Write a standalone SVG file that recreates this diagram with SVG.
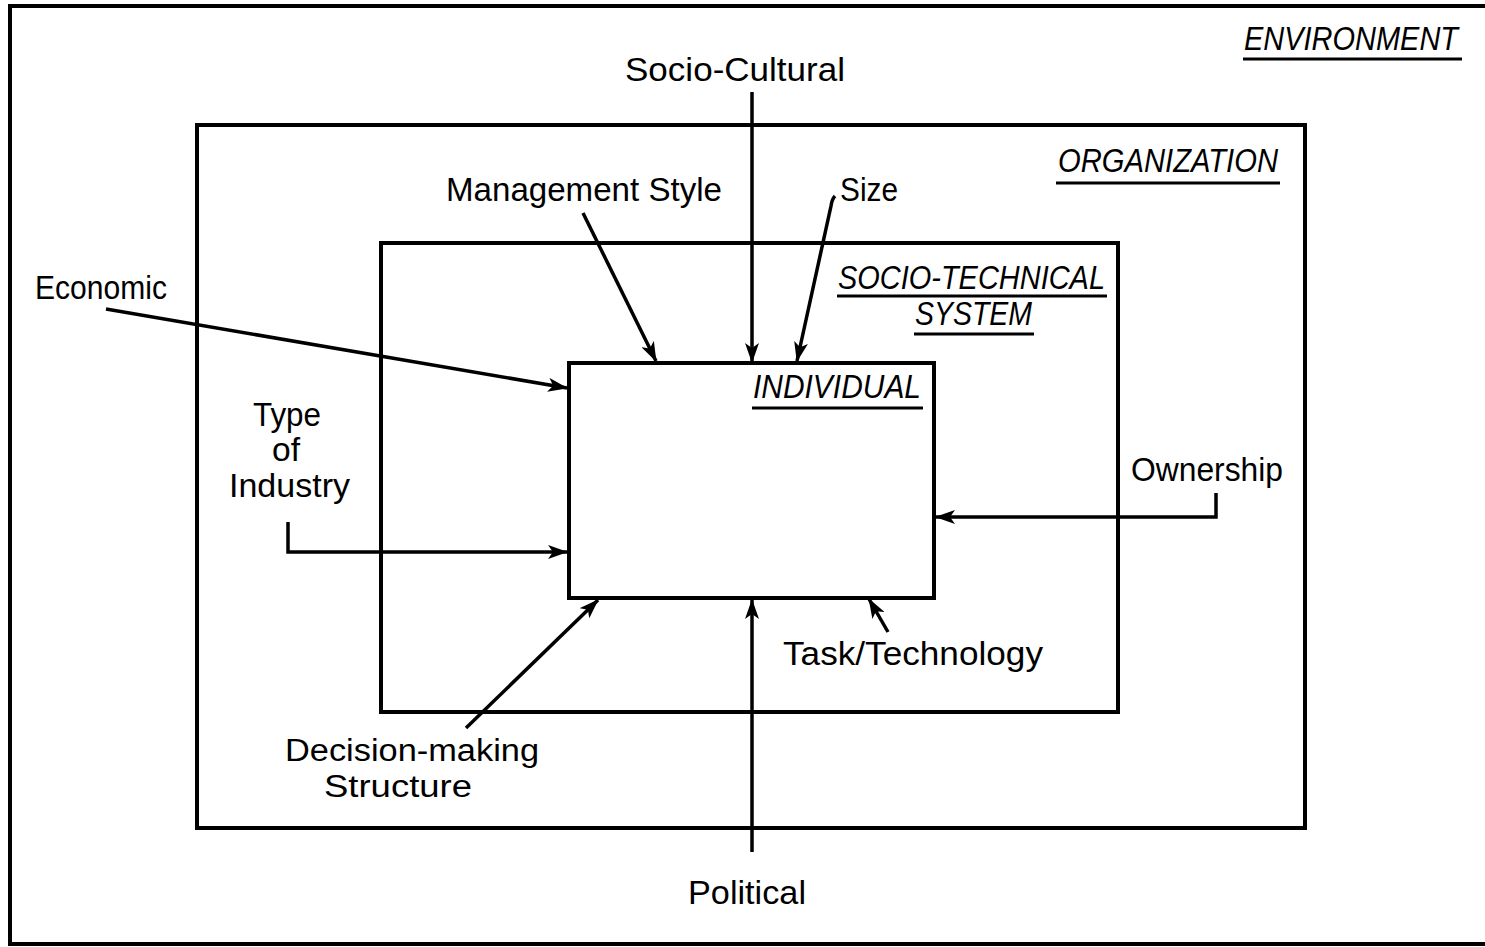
<svg xmlns="http://www.w3.org/2000/svg" width="1485" height="947" viewBox="0 0 1485 947">
<style>
.box{fill:none;stroke:#000;stroke-width:4}
.ln{fill:none;stroke:#000;stroke-width:3.5;stroke-linejoin:miter}
.ul{stroke:#000;stroke-width:3}
text{font-family:"Liberation Sans",Arial,sans-serif;font-size:34px;fill:#000}
.t{font-style:italic;font-size:33px}
</style>
<defs>
<marker id="ah" viewBox="0 0 20 14" refX="19" refY="7" markerWidth="20" markerHeight="14" markerUnits="userSpaceOnUse" orient="auto">
<path d="M0,0 L20,7 L0,14 L5,7 Z" fill="#000"/>
</marker>
</defs>
<rect width="1485" height="947" fill="#fff"/>
<g id="environment">
<path class="box" d="M1490,6 H10 V944 H1490"/>
<text class="t" x="1244" y="50" textLength="214" lengthAdjust="spacingAndGlyphs">ENVIRONMENT</text>
<line class="ul" x1="1243" y1="59" x2="1462" y2="59"/>
</g>
<g id="organization">
<rect class="box" x="197" y="125" width="1108" height="703"/>
<text class="t" x="1058" y="172" textLength="220" lengthAdjust="spacingAndGlyphs">ORGANIZATION</text>
<line class="ul" x1="1056" y1="183" x2="1280" y2="183"/>
</g>
<g id="socio-technical">
<rect class="box" x="381" y="243" width="737" height="469"/>
<text class="t" x="838" y="289" textLength="267" lengthAdjust="spacingAndGlyphs">SOCIO-TECHNICAL</text>
<line class="ul" x1="837" y1="296" x2="1107" y2="296"/>
<text class="t" x="915" y="325" textLength="117" lengthAdjust="spacingAndGlyphs">SYSTEM</text>
<line class="ul" x1="914" y1="334" x2="1034" y2="334"/>
</g>
<g id="individual">
<rect class="box" x="569" y="363" width="365" height="235"/>
<text class="t" x="753" y="398" textLength="168" lengthAdjust="spacingAndGlyphs">INDIVIDUAL</text>
<line class="ul" x1="752" y1="408" x2="923" y2="408"/>
</g>
<g id="labels">
<text x="625" y="81" textLength="220" lengthAdjust="spacingAndGlyphs">Socio-Cultural</text>
<text x="446" y="201" textLength="276" lengthAdjust="spacingAndGlyphs">Management Style</text>
<text x="840" y="201" textLength="58" lengthAdjust="spacingAndGlyphs">Size</text>
<text x="35" y="299" textLength="132" lengthAdjust="spacingAndGlyphs">Economic</text>
<text><tspan x="253" y="426" textLength="68" lengthAdjust="spacingAndGlyphs">Type</tspan><tspan x="272" y="461" textLength="28" lengthAdjust="spacingAndGlyphs">of</tspan><tspan x="229" y="497" textLength="121" lengthAdjust="spacingAndGlyphs">Industry</tspan></text>
<text x="1131" y="481" textLength="152" lengthAdjust="spacingAndGlyphs">Ownership</text>
<text x="783" y="665" textLength="260" lengthAdjust="spacingAndGlyphs">Task/Technology</text>
<text style="font-size:31px"><tspan x="285" y="761" textLength="254" lengthAdjust="spacingAndGlyphs">Decision-making</tspan><tspan x="324" y="797" textLength="148" lengthAdjust="spacingAndGlyphs">Structure</tspan></text>
<text x="688" y="904" textLength="118" lengthAdjust="spacingAndGlyphs">Political</text>
</g>
<g id="connectors">
<line class="ln" x1="752" y1="92" x2="752" y2="362" marker-end="url(#ah)"/>
<line class="ln" x1="583" y1="213" x2="656" y2="361" marker-end="url(#ah)"/>
<path class="ln" d="M835,196 Q832,199 831,206 L797,361" marker-end="url(#ah)"/>
<line class="ln" x1="106" y1="309" x2="567" y2="388" marker-end="url(#ah)"/>
<path class="ln" d="M288,522 V552 H567" marker-end="url(#ah)"/>
<path class="ln" d="M1216,493 V517 H936" marker-end="url(#ah)"/>
<line class="ln" x1="888" y1="632" x2="869" y2="599" marker-end="url(#ah)"/>
<line class="ln" x1="466" y1="728" x2="598" y2="600" marker-end="url(#ah)"/>
<line class="ln" x1="752" y1="852" x2="752" y2="600" marker-end="url(#ah)"/>
</g>
</svg>
